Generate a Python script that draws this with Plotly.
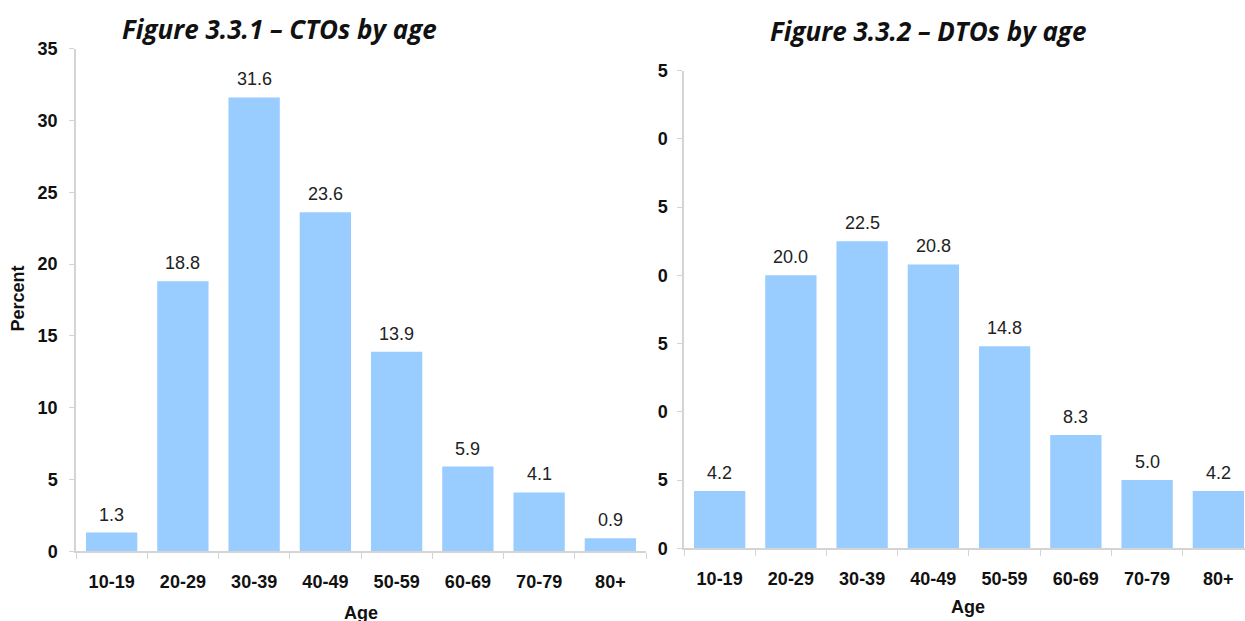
import plotly.graph_objects as go

# Age bands shared by both panels
age_bands = ["10-19", "20-29", "30-39", "40-49", "50-59", "60-69", "70-79", "80+"]

# Percent of CTOs and DTOs in each age band
cto_pct = [1.3, 18.8, 31.6, 23.6, 13.9, 5.9, 4.1, 0.9]
dto_pct = [4.2, 20.0, 22.5, 20.8, 14.8, 8.3, 5.0, 4.2]

# y-axis ticks; the right panel's labels show only their last digit
y_ticks = [0, 5, 10, 15, 20, 25, 30, 35]
y_ticktext_left = ["0", "5", "10", "15", "20", "25", "30", "35"]
y_ticktext_right = ["0", "5", "0", "5", "0", "5", "0", "5"]

BAR = "#99CCFF"
AXIS = "#d4d4d4"
TXT = "#111111"
W, H = 1245, 621

# vertical placement helper: pixel row -> paper fraction of the drawn area
TOP_OFF, DRAW_H = 9.3, 601.5


def fy(p):
    return 1 - (p - TOP_OFF) / DRAW_H


fig = go.Figure()

fig.add_trace(go.Bar(
    x=age_bands, y=cto_pct, marker_color=BAR, marker_line_width=0,
    xaxis="x", yaxis="y", showlegend=False, hoverinfo="x+y",
))
fig.add_trace(go.Bar(
    x=age_bands, y=dto_pct, marker_color=BAR, marker_line_width=0,
    xaxis="x2", yaxis="y2", showlegend=False, hoverinfo="x+y",
))

tick_font = dict(family="Liberation Sans, Arial", size=18, color=TXT, weight="bold")

common_x = dict(
    type="category", showline=True, linecolor=AXIS, linewidth=1.5,
    ticks="outside", tickson="boundaries", ticklen=6, tickcolor=AXIS,
    tickfont=tick_font, showgrid=False, zeroline=False,
    ticklabelstandoff=13, fixedrange=True,
)
common_y = dict(
    showline=True, linecolor=AXIS, linewidth=1.5, ticks="outside",
    ticklen=5, tickcolor=AXIS, tickfont=tick_font, showgrid=False,
    zeroline=False, range=[0, 35], tickmode="array", tickvals=y_ticks,
    fixedrange=True,
)

left_x0, left_x1 = 76 / W, 646 / W
right_x0 = 684 / W

fig.update_layout(
    width=W, height=H,
    margin=dict(l=0, r=0, t=0, b=0),
    paper_bgcolor="white", plot_bgcolor="white",
    bargap=0.28,
    xaxis=dict(common_x, domain=[left_x0, left_x1], anchor="y",
               range=[-0.5, 7.5]),
    yaxis=dict(common_y, domain=[fy(551), fy(48)], anchor="x",
               ticktext=y_ticktext_left, ticklabelstandoff=8),
    xaxis2=dict(common_x, domain=[right_x0, 1.0], anchor="y2",
                range=[-0.5, 7.374]),
    yaxis2=dict(common_y, domain=[fy(548), fy(70)], anchor="x2",
                ticktext=y_ticktext_right, ticklabelstandoff=6),
)

title_font = dict(family="Open Sans, Noto Sans, sans-serif", size=26, color=TXT)
label_font = dict(family="Liberation Sans, Arial", size=18, color=TXT)
value_font = dict(family="Liberation Sans, Arial", size=18, color="#222222")

annotations = [
    dict(text="<b><i>Figure 3.3.1 – CTOs by age</i></b>", x=279 / W, y=fy(28),
         font=title_font),
    dict(text="<b><i>Figure 3.3.2 – DTOs by age</i></b>", x=928 / W, y=fy(30),
         font=title_font),
    dict(text="<b>Percent</b>", x=18 / W, y=fy(298), textangle=-90,
         font=label_font),
    dict(text="<b>Age</b>", x=361 / W, y=fy(613), font=label_font),
    dict(text="<b>Age</b>", x=968 / W, y=fy(607), font=label_font),
]
for a in annotations:
    a.update(xref="paper", yref="paper")

# value labels above each bar
for axis_x, axis_y, values in (("x", "y", cto_pct), ("x2", "y2", dto_pct)):
    for band, v in zip(age_bands, values):
        annotations.append(dict(
            text=f"{v:.1f}", x=band, y=v, xref=axis_x, yref=axis_y,
            yshift=18, font=value_font,
        ))

for a in annotations:
    a.update(showarrow=False, xanchor="center", yanchor="middle")
fig.update_layout(annotations=annotations)

fig.write_html("out.html")
